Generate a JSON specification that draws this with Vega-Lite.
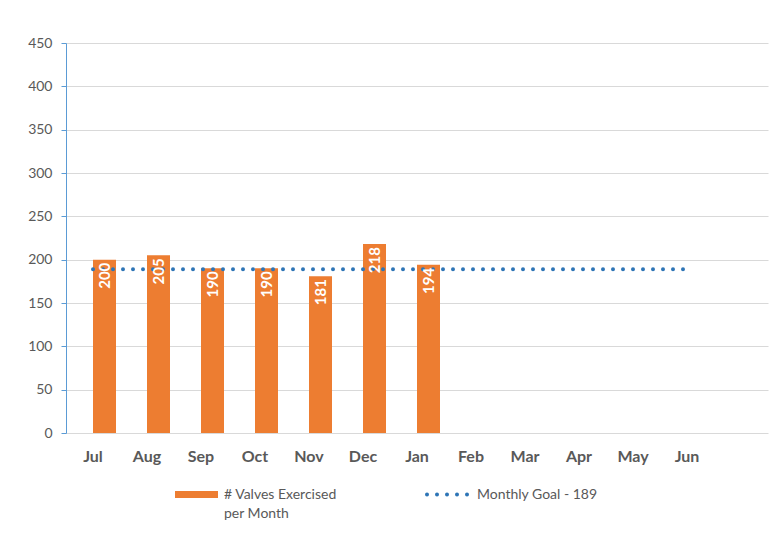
{
  "$schema": "https://vega.github.io/schema/vega-lite/v6.json",
  "width": 702,
  "height": 390,
  "autosize": {"type": "none"},
  "padding": {"left": 66, "top": 43, "right": 12, "bottom": 103},
  "background": "white",
  "config": {"font": "Lato", "view": {"stroke": null}},
  "datasets": {
    "valves": [
      {"month": "Jul", "count": 200},
      {"month": "Aug", "count": 205},
      {"month": "Sep", "count": 190},
      {"month": "Oct", "count": 190},
      {"month": "Nov", "count": 181},
      {"month": "Dec", "count": 218},
      {"month": "Jan", "count": 194}
    ],
    "goal": [
      {"month": "Jul", "goal": 189},
      {"month": "Aug", "goal": 189},
      {"month": "Sep", "goal": 189},
      {"month": "Oct", "goal": 189},
      {"month": "Nov", "goal": 189},
      {"month": "Dec", "goal": 189},
      {"month": "Jan", "goal": 189},
      {"month": "Feb", "goal": 189},
      {"month": "Mar", "goal": 189},
      {"month": "Apr", "goal": 189},
      {"month": "May", "goal": 189},
      {"month": "Jun", "goal": 189}
    ]
  },
  "encoding": {
    "x": {
      "field": "month",
      "type": "nominal",
      "scale": {
        "domain": ["Jul", "Aug", "Sep", "Oct", "Nov", "Dec", "Jan", "Feb", "Mar", "Apr", "May", "Jun", " "],
        "paddingInner": 0,
        "paddingOuter": 0
      },
      "axis": {
        "title": null,
        "labelAngle": 0,
        "domain": false,
        "ticks": false,
        "labelFontSize": 16,
        "labelFontWeight": "bold",
        "labelColor": "#595959",
        "labelPadding": 15
      }
    }
  },
  "layer": [
    {
      "data": {"name": "valves"},
      "mark": {"type": "bar", "width": 23, "xOffset": 11.5},
      "encoding": {
        "y": {
          "field": "count",
          "type": "quantitative",
          "scale": {"domain": [0, 450], "nice": false},
          "axis": {
            "title": null,
            "values": [0, 50, 100, 150, 200, 250, 300, 350, 400, 450],
            "grid": true,
            "gridColor": "#D9D9D9",
            "gridWidth": 1,
            "domainColor": "#5B9BD5",
            "domainWidth": 1,
            "tickColor": "#5B9BD5",
            "tickSize": 5,
            "labelPadding": 9,
            "labelFontSize": 14,
            "labelColor": "#595959"
          }
        },
        "fill": {
          "datum": "# Valves Exercised per Month",
          "scale": {"range": ["#ED7D31"]},
          "legend": {
            "title": null,
            "orient": "none",
            "legendX": 109,
            "legendY": 430,
            "padding": 0,
            "symbolType": "M-1,-0.16L1,-0.16L1,0.16L-1,0.16Z",
            "symbolSize": 1849,
            "symbolStrokeWidth": 0,
            "labelOffset": 6,
            "labelFontSize": 14,
            "labelColor": "#595959",
            "labelBaseline": "top",
            "labelLimit": 300,
            "labelExpr": "datum.label == '# Valves Exercised per Month' ? ['# Valves Exercised', 'per Month'] : datum.label",
            "encode": {"labels": {"update": {"lineHeight": {"value": 19}, "dy": {"value": -7}}}}
          }
        }
      }
    },
    {
      "data": {"name": "goal"},
      "mark": {"type": "line", "strokeWidth": 4, "strokeDash": [0, 10], "strokeCap": "round"},
      "encoding": {
        "y": {"field": "goal", "type": "quantitative"},
        "stroke": {
          "datum": "Monthly Goal - 189",
          "scale": {"range": ["#2E75B6"]},
          "legend": {
            "title": null,
            "orient": "none",
            "legendX": 359,
            "legendY": 429,
            "padding": 0,
            "symbolType": "stroke",
            "symbolSize": 1681,
            "symbolStrokeWidth": 4,
            "symbolDash": [0, 10],
            "labelOffset": 7,
            "labelFontSize": 14,
            "labelColor": "#595959",
            "encode": {"symbols": {"update": {"strokeCap": {"value": "round"}}}}
          }
        }
      }
    },
    {
      "data": {"name": "valves"},
      "mark": {
        "type": "text",
        "angle": 270,
        "align": "right",
        "baseline": "middle",
        "dx": -3,
        "xOffset": 11.5,
        "color": "white",
        "fontWeight": "bold",
        "fontSize": 15
      },
      "encoding": {
        "y": {"field": "count", "type": "quantitative"},
        "text": {"field": "count", "type": "quantitative"}
      }
    }
  ]
}
